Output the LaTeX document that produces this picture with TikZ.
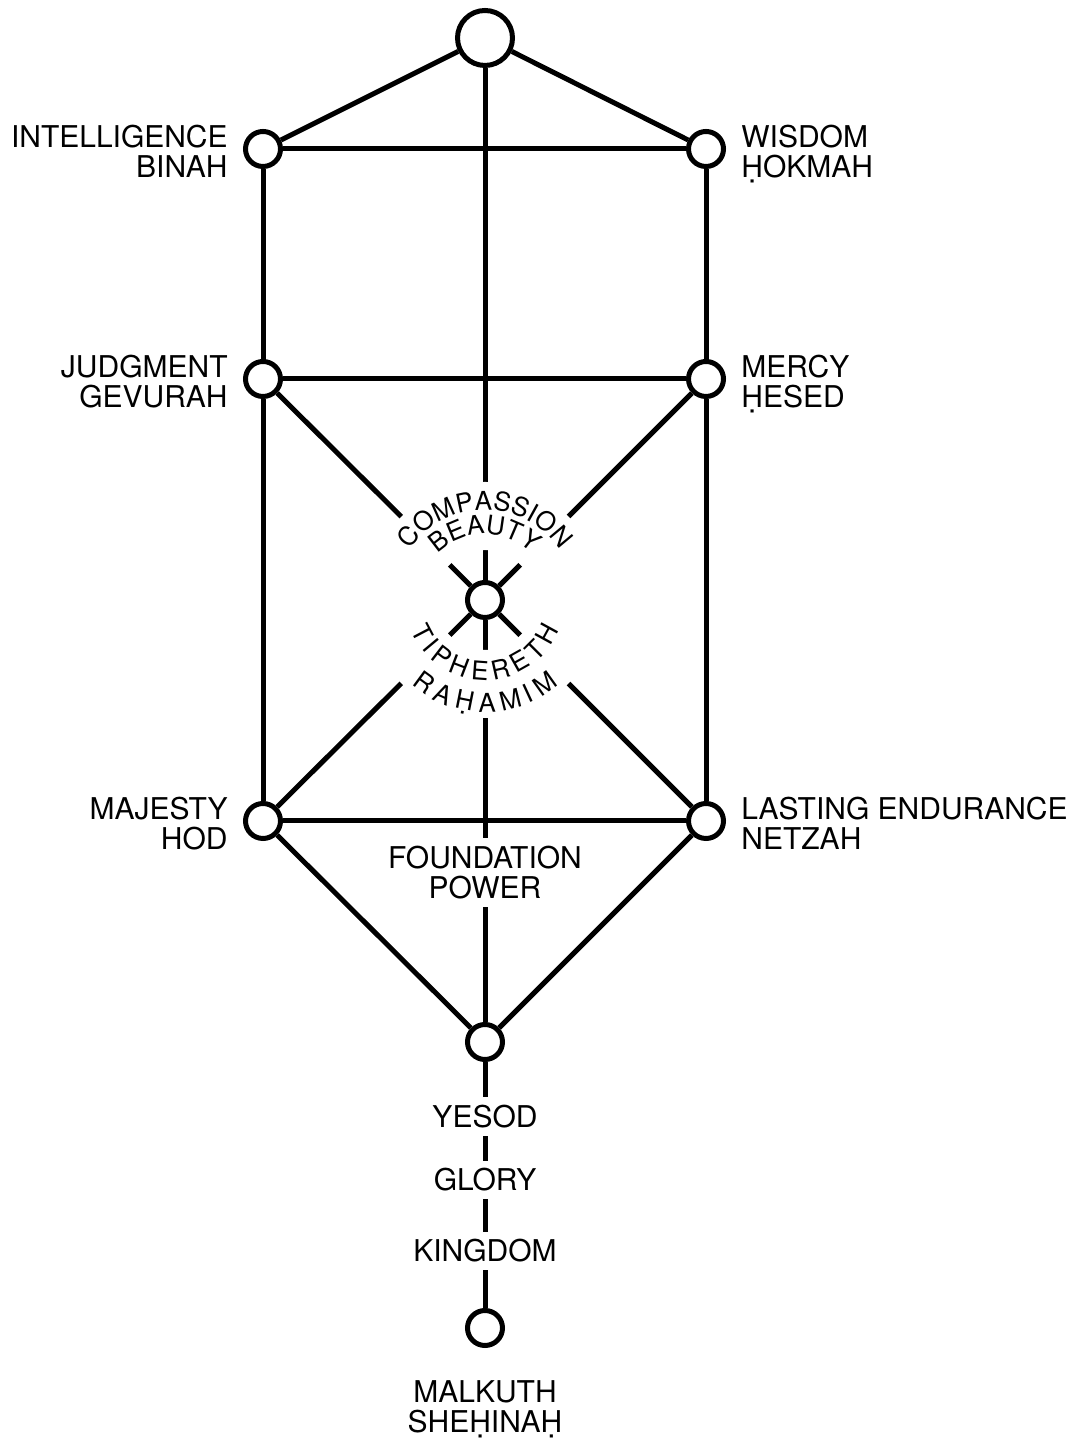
\documentclass[tikz,border=0pt]{standalone}
\usepackage{fontspec}
\setmainfont{TeX Gyre Heros}
\usepackage{xcolor}
\usepackage{tikz}
\usetikzlibrary{positioning,decorations.text}
\tikzset{
  node-sefira/.style={draw=black,line width=2.5pt,circle,fill=white,
    inner sep=0pt,minimum size=17.5pt},
  node-crown/.style={node-sefira,minimum size=27.5pt},
  node-label/.style={inner sep=0pt,text depth=0pt,yshift=-1.25pt,
    font=\fontsize{15}{15}\selectfont},
  node-gap/.style={fill=white,inner sep=4pt,align=center,
    font=\fontsize{15}{15}\selectfont},
  path-line/.style={line width=2.5pt,draw=black},
  arc-text/.style={decorate,decoration={text along path,
    text align=center,text={|\fontsize{13}{14}\selectfont|#1}}},
  arc-text-wide/.style={decorate,decoration={text along path,
    text align=fit to path,text={|\fontsize{13}{14}\selectfont|#1}}},
}

\begin{document}
\begin{tikzpicture}[x=0.5pt,y=0.5pt]
  \useasboundingbox (0,0) rectangle (1078,1438);
  \node[node-crown] (keter) at (485,1400) {};
  \node[node-sefira] (binah) at (263,1289) {};
  \node[node-sefira] (hokmah) at (706,1289) {};
  \node[node-sefira] (gevurah) at (263,1059) {};
  \node[node-sefira] (hesed) at (706,1059) {};
  \node[node-sefira] (tiphereth) at (485,838) {};
  \node[node-sefira] (hod) at (263,617) {};
  \node[node-sefira] (netzah) at (706,617) {};
  \node[node-sefira] (yesod) at (485,396) {};
  \node[node-sefira] (malkuth) at (485,110) {};
  \foreach \a/\b in {keter/binah,keter/hokmah,keter/tiphereth,binah/hokmah,
      binah/gevurah,hokmah/hesed,gevurah/hesed,gevurah/hod,hesed/netzah,
      gevurah/tiphereth,hesed/tiphereth,hod/tiphereth,netzah/tiphereth,
      tiphereth/yesod,hod/netzah,hod/yesod,netzah/yesod,yesod/malkuth}
    \draw[path-line] (\a) -- (\b);
  % ring cleared for the curved names
  \fill[white,even odd rule] (tiphereth.center) circle[radius=59pt]
    circle[radius=25pt];
  \path[arc-text=COMPASSION] ([shift={(150:45pt)}]tiphereth.center)
    arc[start angle=150,end angle=30,radius=45pt];
  \path[arc-text=BEAUTY] ([shift={(140:33pt)}]tiphereth.center)
    arc[start angle=140,end angle=40,radius=33pt];
  \path[arc-text-wide=TIPHERETH] ([shift={(202:40pt)}]tiphereth.center)
    arc[start angle=202,end angle=338,radius=40pt];
  \path[arc-text-wide=RAḤAMIM] ([shift={(229:56pt)}]tiphereth.center)
    arc[start angle=229,end angle=311,radius=56pt];
  \node[node-gap] (foundation) at (485,565.5) {FOUNDATION\\POWER};
  \node[node-gap] (yesod-name) at (485,321.5) {YESOD};
  \node[node-gap] (glory) at (485,258) {GLORY};
  \node[node-gap] (kingdom) at (485,187) {KINGDOM};
  \node[node-label,align=right,left=7.5pt of binah] (binah-name)
    {INTELLIGENCE\\BINAH};
  \node[node-label,align=left,right=7.5pt of hokmah] (hokmah-name)
    {WISDOM\\ḤOKMAH};
  \node[node-label,align=right,left=7.5pt of gevurah] (gevurah-name)
    {JUDGMENT\\GEVURAH};
  \node[node-label,align=left,right=7.5pt of hesed] (hesed-name)
    {MERCY\\ḤESED};
  \node[node-label,align=right,left=7.5pt of hod] (hod-name)
    {MAJESTY\\HOD};
  \node[node-label,align=left,right=7.5pt of netzah] (netzah-name)
    {LASTING ENDURANCE\\NETZAH};
  \node[node-label,align=center,yshift=1.25pt,below=16pt of malkuth]
    (malkuth-name) {MALKUTH\\SHEḤINAḤ};
\end{tikzpicture}
\end{document}
